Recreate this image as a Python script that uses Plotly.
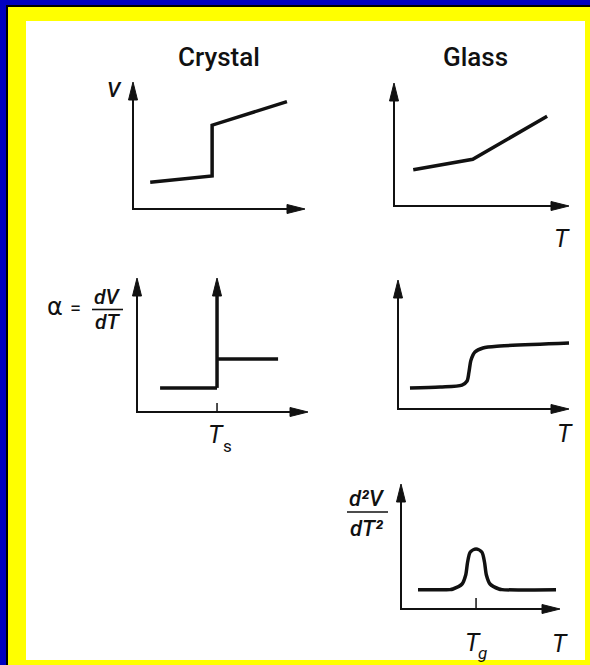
import plotly.graph_objects as go

W, H = 590, 665
INK = "#111111"
FONT = "Roboto, Liberation Sans Narrow, DejaVu Sans Condensed, sans-serif"
GREEK_FONT = "DejaVu Sans, Noto Sans, sans-serif"

# ---------------- data (temperature and response in axis units, axes run 0..10) -------------
# Crystal: volume jumps at the melting point
cryst_v_T = [1.0, 4.6, 4.6, 8.95]
cryst_v_V = [2.1, 2.6, 6.6, 8.45]

# Glass: volume changes slope at the glass transition
glass_v_T = [1.1, 4.5, 8.75]
glass_v_V = [2.95, 3.8, 7.3]

# Crystal: expansion coefficient alpha = dV/dT (delta spike at Ts)
Ts = 4.68
cryst_a_T_low = [1.35, Ts]
cryst_a_low = [1.8, 1.8]
cryst_a_T_high = [Ts, 8.25]
cryst_a_high = [3.95, 3.95]
spike_T = [Ts, Ts]
spike_Y = [1.8, 10.0]

# Glass: expansion coefficient, smooth step
glass_a_T = [0.70, 2.46, 3.74, 4.04, 4.15, 4.27, 4.50, 4.97, 5.96, 10.0]
glass_a = [1.63, 1.71, 1.86, 2.17, 2.87, 3.80, 4.42, 4.73, 4.88, 5.12]

# Glass: second derivative, peak at Tg
Tg = 4.72
glass_d2_T = [1.07, 3.08, 3.27, 3.84, 4.07, 4.19, 4.36, 4.72, 5.08, 5.25, 5.37, 5.60, 6.16, 6.35, 9.75]
glass_d2 = [1.55, 1.55, 1.60, 2.00, 2.72, 3.76, 4.56, 4.80, 4.56, 3.76, 2.72, 2.00, 1.60, 1.55, 1.55]

# ---------------- panel geometry (pixels: origin and arrow tips) ----------------
geo = {
    1: dict(ox=133, oy=209, xt=305, yt=82),   # crystal V
    2: dict(ox=394, oy=206, xt=569, yt=83),   # glass V
    3: dict(ox=137, oy=412, xt=308, yt=278),  # crystal alpha
    4: dict(ox=398, oy=409, xt=569, yt=280),  # glass alpha
    5: dict(ox=401, oy=609, xt=560, yt=484),  # glass d2V/dT2
}
PAD = 14
ARROW_LEN = 18
ARROW_HALF = 4.5
AXIS_W = 2
CURVE_W = 3.5

fig = go.Figure()
layout = {}


def refs(i):
    return ("x" if i == 1 else f"x{i}"), ("y" if i == 1 else f"y{i}")


for i, g in geo.items():
    g["ux"] = 10.0 / (g["xt"] - g["ox"])
    g["uy"] = 10.0 / (g["oy"] - g["yt"])
    xr, yr = refs(i)
    kx = "xaxis" if i == 1 else f"xaxis{i}"
    ky = "yaxis" if i == 1 else f"yaxis{i}"
    layout[kx] = dict(domain=[(g["ox"] - PAD) / W, (g["xt"] + PAD) / W],
                      range=[-PAD * g["ux"], 10 + PAD * g["ux"]],
                      visible=False, fixedrange=True, anchor=yr)
    layout[ky] = dict(domain=[1 - (g["oy"] + PAD) / H, 1 - (g["yt"] - PAD) / H],
                      range=[-PAD * g["uy"], 10 + PAD * g["uy"]],
                      visible=False, fixedrange=True, anchor=xr)


def line(i, x, y, width=CURVE_W, spline=False):
    xr, yr = refs(i)
    fig.add_trace(go.Scatter(
        x=x, y=y, mode="lines", xaxis=xr, yaxis=yr, hoverinfo="skip",
        line=dict(color=INK, width=width, shape="spline" if spline else "linear",
                  smoothing=0.8)))


def arrowhead(i, x, y, direction):
    g = geo[i]
    xr, yr = refs(i)
    if direction == "right":
        px = [x, x - ARROW_LEN * g["ux"], x - ARROW_LEN * g["ux"], x]
        py = [y, y + ARROW_HALF * g["uy"], y - ARROW_HALF * g["uy"], y]
    else:
        px = [x, x - ARROW_HALF * g["ux"], x + ARROW_HALF * g["ux"], x]
        py = [y, y - ARROW_LEN * g["uy"], y - ARROW_LEN * g["uy"], y]
    fig.add_trace(go.Scatter(
        x=px, y=py, mode="lines", fill="toself", fillcolor=INK,
        line=dict(color=INK, width=1), xaxis=xr, yaxis=yr, hoverinfo="skip"))


def frame(i):
    g = geo[i]
    line(i, [0, 0, 10 - 0.5 * ARROW_LEN * g["ux"]],
         [10 - 0.5 * ARROW_LEN * g["uy"], 0, 0], width=AXIS_W)
    arrowhead(i, 10, 0, "right")
    arrowhead(i, 0, 10, "up")


def tick(i, x, length_px=9):
    line(i, [x, x], [0, length_px * geo[i]["uy"]], width=1.5)


for i in geo:
    frame(i)

# Crystal V
line(1, cryst_v_T, cryst_v_V)
# Glass V
line(2, glass_v_T, glass_v_V)
# Crystal alpha
line(3, cryst_a_T_low, cryst_a_low)
line(3, cryst_a_T_high, cryst_a_high)
line(3, spike_T, [spike_Y[0], spike_Y[1] - 0.5 * ARROW_LEN * geo[3]["uy"]])
arrowhead(3, spike_T[1], spike_Y[1], "up")
tick(3, Ts)
# Glass alpha
line(4, glass_a_T, glass_a, spline=True)
# Glass second derivative
line(5, glass_d2_T, glass_d2, spline=True)
tick(5, Tg, 11)

# ---------------- text ----------------
annotations = []


def label(text, px, py, size, italic=False, weight=400, family=FONT):
    annotations.append(dict(
        text=text, x=px / W, y=1 - py / H, xref="paper", yref="paper",
        showarrow=False, xanchor="center", yanchor="middle",
        font=dict(family=family, size=size, color=INK, weight=weight,
                  style="italic" if italic else "normal")))


label("Crystal", 219, 57, 26, weight=500)
label("Glass", 475, 57, 26, weight=500)
label("V", 114, 90, 21, italic=True, weight=500)
label("T", 562, 238, 25, italic=True)
label("T", 565, 433, 25, italic=True)
label("T", 560, 643, 25, italic=True)
# T_s and T_g
label("T", 216, 434, 25, italic=True)
label("s", 227, 446, 17)
label("T", 473, 642, 25, italic=True)
label("g", 482, 653, 17, italic=True)

# alpha = dV/dT
label("α", 55, 307, 24, family=GREEK_FONT, weight=500)
label("=", 75, 308, 20)
label("dV", 107, 297, 21, italic=True, weight=500)
label("dT", 107, 322, 21, italic=True, weight=500)
# d2V/dT2
label("d²V", 367, 498, 22, italic=True, weight=500)
label("dT²", 367, 528, 22, italic=True, weight=500)

shapes = [
    # frame: blue outer, thin dark rule, yellow mat, white sheet
    dict(type="rect", xref="paper", yref="paper", x0=6 / W, x1=1, y0=0, y1=1 - 5 / H,
         fillcolor="#000000", line=dict(width=0), layer="below"),
    dict(type="rect", xref="paper", yref="paper", x0=8 / W, x1=1, y0=0, y1=1 - 7 / H,
         fillcolor="#FFFF00", line=dict(width=0), layer="below"),
    dict(type="rect", xref="paper", yref="paper", x0=26 / W, x1=585 / W,
         y0=1 - 660 / H, y1=1 - 21 / H,
         fillcolor="#FFFFFF", line=dict(width=0), layer="below"),
    # fraction bars
    dict(type="line", xref="paper", yref="paper", x0=92 / W, x1=123 / W,
         y0=1 - 309.5 / H, y1=1 - 309.5 / H, line=dict(color=INK, width=1.6)),
    dict(type="line", xref="paper", yref="paper", x0=347 / W, x1=388 / W,
         y0=1 - 512 / H, y1=1 - 512 / H, line=dict(color=INK, width=1.6)),
]

fig.update_layout(
    width=W, height=H, margin=dict(l=0, r=0, t=0, b=0),
    paper_bgcolor="#0000C0", plot_bgcolor="rgba(0,0,0,0)",
    showlegend=False, annotations=annotations, shapes=shapes, **layout)

fig.write_html("out.html", config={"displayModeBar": False})
